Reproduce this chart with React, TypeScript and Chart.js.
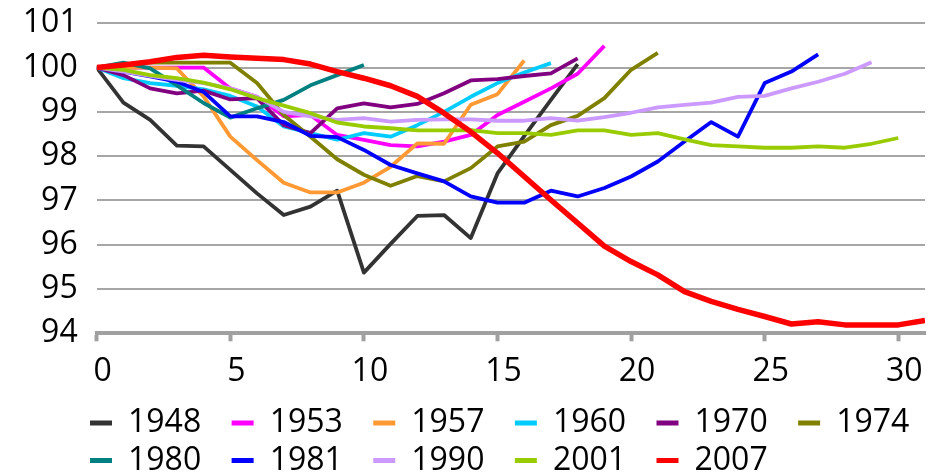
import React, { useEffect, useRef } from "react";
import { Chart, registerables } from "chart.js";

Chart.register(...registerables);

const periods = [0, 1, 2, 3, 4, 5, 6, 7, 8, 9, 10, 11, 12, 13, 14, 15, 16, 17, 18, 19, 20, 21, 22, 23, 24, 25, 26, 27, 28, 29, 30, 31];
const xTickValues = [0, 5, 10, 15, 20, 25, 30];
const yTickValues = [94, 95, 96, 97, 98, 99, 100, 101];

const s1948 = [100, 99.21, 98.82, 98.24, 98.22, 97.69, 97.16, 96.67, 96.86, 97.22, 95.37, 96.02, 96.65, 96.67, 96.15, 97.61, 98.45, 99.27, 100.08];
const s1953 = [100, 100, 100, 100, 100, 99.53, 99.34, 98.9, 98.93, 98.48, 98.37, 98.25, 98.22, 98.33, 98.48, 98.93, 99.23, 99.53, 99.86, 100.49];
const s1957 = [100, 100, 100, 99.98, 99.35, 98.44, 97.91, 97.4, 97.18, 97.18, 97.4, 97.76, 98.29, 98.28, 99.16, 99.4, 100.16];
const s1960 = [100, 99.76, 99.65, 99.59, 99.51, 99.36, 99.12, 98.67, 98.52, 98.37, 98.52, 98.44, 98.7, 99.0, 99.34, 99.65, 99.89, 100.1];
const s1970 = [100, 99.83, 99.53, 99.42, 99.48, 99.28, 99.31, 98.7, 98.52, 99.08, 99.19, 99.1, 99.18, 99.42, 99.71, 99.74, 99.81, 99.87, 100.21];
const s1974 = [100, 100.06, 100.11, 100.11, 100.11, 100.11, 99.65, 98.93, 98.44, 97.93, 97.58, 97.33, 97.55, 97.43, 97.73, 98.22, 98.33, 98.7, 98.91, 99.31, 99.95, 100.33];
const s1980 = [100, 100.11, 99.98, 99.6, 99.2, 98.87, 99.08, 99.27, 99.6, 99.83, 100.06];
const s1981 = [100, 99.91, 99.8, 99.68, 99.45, 98.9, 98.9, 98.77, 98.46, 98.43, 98.14, 97.8, 97.61, 97.43, 97.09, 96.95, 96.95, 97.22, 97.09, 97.28, 97.54, 97.88, 98.33, 98.77, 98.44, 99.65, 99.91, 100.3];
const s1990 = [100, 99.91, 99.81, 99.72, 99.65, 99.53, 99.34, 99.0, 98.9, 98.82, 98.86, 98.78, 98.82, 98.83, 98.83, 98.8, 98.8, 98.86, 98.8, 98.88, 98.98, 99.1, 99.16, 99.21, 99.34, 99.36, 99.53, 99.68, 99.86, 100.12];
const s2001 = [100, 99.95, 99.83, 99.76, 99.66, 99.51, 99.31, 99.14, 98.97, 98.76, 98.67, 98.63, 98.58, 98.58, 98.59, 98.52, 98.52, 98.48, 98.58, 98.58, 98.48, 98.52, 98.38, 98.25, 98.22, 98.19, 98.19, 98.22, 98.19, 98.28, 98.41];
const s2007 = [100, 100.06, 100.13, 100.23, 100.28, 100.24, 100.21, 100.18, 100.08, 99.91, 99.76, 99.59, 99.35, 98.97, 98.55, 98.07, 97.54, 97.01, 96.49, 95.97, 95.62, 95.32, 94.94, 94.72, 94.54, 94.38, 94.21, 94.26, 94.19, 94.19, 94.19, 94.29];

const seriesNames = ["1948", "1953", "1957", "1960", "1970", "1974", "1980", "1981", "1990", "2001", "2007"];
const seriesValues = [s1948, s1953, s1957, s1960, s1970, s1974, s1980, s1981, s1990, s2001, s2007];
const seriesColors = ["#333333", "#ff00ff", "#ff9933", "#00ccff", "#800080", "#808000", "#008080", "#0000ff", "#cc99ff", "#99cc00", "#ff0000"];
const seriesWidths = [3.8, 3.8, 3.8, 3.8, 3.8, 3.8, 3.8, 3.8, 3.8, 3.8, 5.5];

const FONT = "'Open Sans', Lato, 'DejaVu Sans', sans-serif";
const LEGEND_PAD = 5.5;

export default function App() {
  const ref = useRef<HTMLCanvasElement | null>(null);

  useEffect(() => {
    if (!ref.current) return;
    const legendShift = {
      id: "legendShift",
      afterLayout(chart: any) {
        const lg = chart.legend;
        if (!lg) return;
        const h = lg.height;
        lg.left = 90 - LEGEND_PAD;
        lg.right = 1000;
        lg.top = 421 - 16 - LEGEND_PAD + 2;
        lg.bottom = lg.top + h;
      },
    };
    const chart = new Chart(ref.current, {
      type: "line",
      data: {
        labels: periods,
        datasets: seriesNames.map((name, i) => ({
          label: name,
          data: seriesValues[i],
          borderColor: seriesColors[i],
          backgroundColor: seriesColors[i],
          borderWidth: seriesWidths[i],
          pointRadius: 0,
          tension: 0,
          fill: false,
          borderJoinStyle: "round" as const,
          order: seriesNames.length - i,
        })),
      },
      options: {
        responsive: false,
        animation: false,
        events: [],
        layout: { padding: { top: 23.3, right: 20, bottom: 0, left: 0 } },
        font: { family: FONT },
        scales: {
          x: {
            type: "linear",
            min: 0,
            max: 31,
            afterFit: (scale: any) => {
              scale.height = 54.7;
            },
            afterBuildTicks: (scale: any) => {
              scale.ticks = xTickValues.map((v) => ({ value: v }));
            },
            ticks: {
              font: { family: FONT, size: 32 },
              color: "#000",
              padding: 11,
              labelOffset: 6,
              maxRotation: 0,
            },
            grid: {
              drawOnChartArea: false,
              drawTicks: true,
              tickLength: 8,
              tickWidth: 4,
              tickColor: "#a0a0a0",
            },
            border: { display: true, width: 4, color: "#a0a0a0" },
          },
          y: {
            min: 94,
            max: 101,
            afterFit: (scale: any) => {
              scale.width = 96.7;
            },
            afterBuildTicks: (scale: any) => {
              scale.ticks = yTickValues.map((v) => ({ value: v }));
            },
            ticks: {
              font: { family: FONT, size: 32 },
              color: "#000",
              padding: 0,
            },
            grid: {
              drawTicks: true,
              tickLength: 19,
              tickColor: "rgba(0,0,0,0)",
              color: "#a6a6a6",
              lineWidth: 2,
            },
            border: { display: false },
          },
        },
        plugins: {
          tooltip: { enabled: false },
          legend: {
            position: "bottom",
            align: "start",
            labels: {
              font: { family: FONT, size: 32 },
              color: "#000",
              boxWidth: 22,
              boxHeight: 5,
              padding: LEGEND_PAD,
              sort: (a: any, b: any) => a.datasetIndex - b.datasetIndex,
              generateLabels: (chart: any) =>
                Chart.defaults.plugins.legend.labels
                  .generateLabels(chart)
                  .map((item: any) => ({
                    ...item,
                    text: item.text + "   ",
                    fillStyle: seriesColors[item.datasetIndex],
                    strokeStyle: "rgba(0,0,0,0)",
                    lineWidth: 0,
                  })),
            },
          },
        },
      },
      plugins: [legendShift],
    });
    return () => chart.destroy();
  }, []);

  return (
    <div style={{ position: "fixed", left: 0, top: 0, width: 945, height: 473, background: "#fff" }}>
      <canvas ref={ref} width={945} height={473} style={{ display: "block" }} />
    </div>
  );
}
